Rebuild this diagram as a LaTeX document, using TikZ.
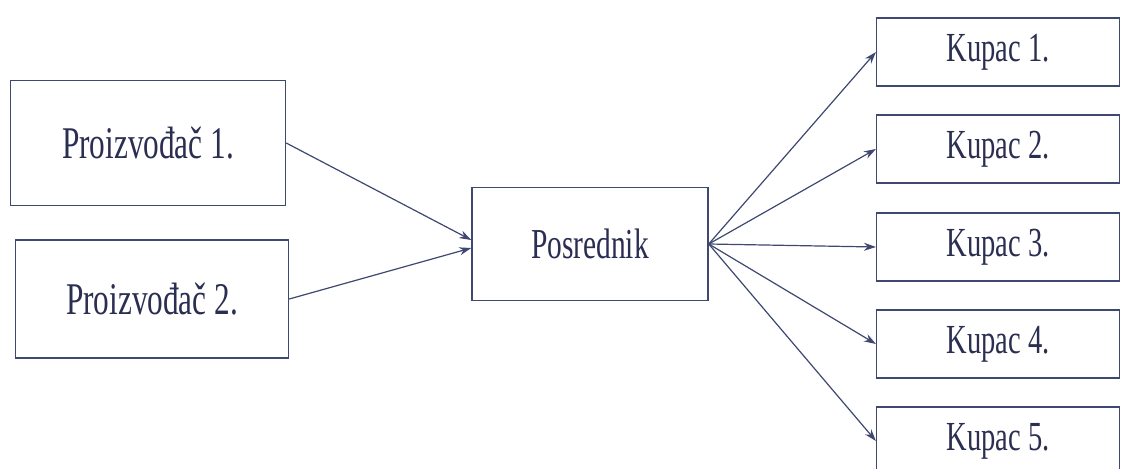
\documentclass[tikz,border=0pt]{standalone}
\usepackage{fontspec}
\setmainfont{Liberation Serif}[FakeStretch=0.69]
\usetikzlibrary{arrows.meta}
\definecolor{ink}{RGB}{62,72,112}
\definecolor{txt}{RGB}{42,47,82}
\tikzset{
  box/.style={draw=ink, line width=1.1pt, text=txt, inner sep=0pt},
  conn/.style={draw=ink, line width=0.9pt, -{Stealth[length=9pt,width=6pt]}},
}
\begin{document}
\begin{tikzpicture}[x=0.75pt,y=-0.75pt]
\useasboundingbox (0,0) rectangle (1123,468);
\clip (0,0) rectangle (1123,468);
\fill[white] (0,0) rectangle (1123,468);
% producers
\node[box, minimum width=206.25pt, minimum height=93.75pt, font=\fontsize{34}{36}\selectfont] (p1) at (148,143) {\raisebox{-3pt}{Proizvođač 1.}};
\node[box, minimum width=204.75pt, minimum height=88.5pt, font=\fontsize{34}{36}\selectfont] (p2) at (152,299) {Proizvođač 2.};
% intermediary
\node[box, minimum width=177pt, minimum height=84.75pt, font=\fontsize{32}{35}\selectfont] (m) at (590,244) {\raisebox{-4pt}{Posrednik}};
% buyers
\foreach \i/\y in {1/52,2/149,3/247,4/344,5/441}{
  \node[box, minimum width=182pt, minimum height=51pt, font=\fontsize{31}{34}\selectfont] (k\i) at (998,\y) {Kupac \i.};
}
\draw[conn] (p1.east) -- ([yshift=3pt]m.west);
\draw[conn] (p2.east) -- ([yshift=-3pt]m.west);
\foreach \i in {1,...,5}{
  \draw[conn] (m.east) -- (k\i.west);
}
\end{tikzpicture}
\end{document}
